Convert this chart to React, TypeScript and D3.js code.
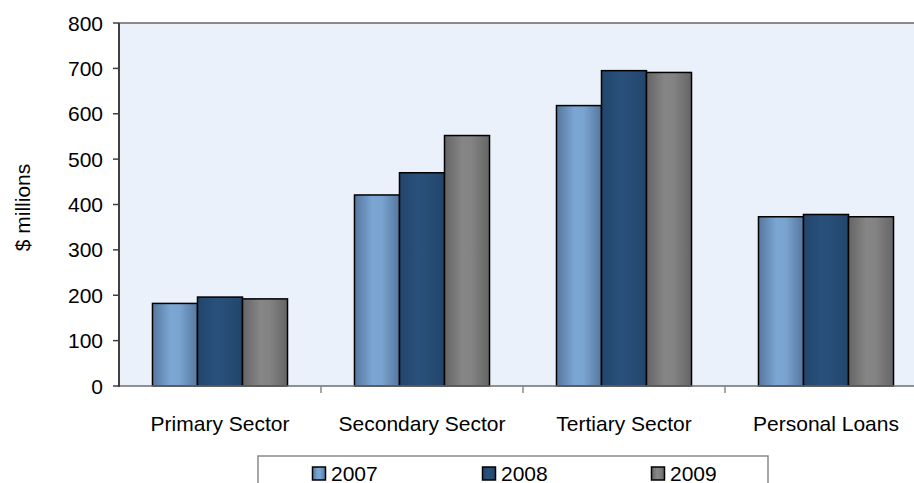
import React from "react";
import * as d3 from "d3";

const categories = ["Primary Sector", "Secondary Sector", "Tertiary Sector", "Personal Loans"];
const years = ["2007", "2008", "2009"];
const values2007 = [182, 421, 618, 373];
const values2008 = [196, 470, 695, 378];
const values2009 = [192, 552, 691, 373];
const yTicks = [0, 100, 200, 300, 400, 500, 600, 700, 800];

const series = [values2007, values2008, values2009];
const gradIds = ["g2007", "g2008", "g2009"];
const gradStops = [
  ["#55779e", "#7ba6d3", "#7aa4d0", "#55779e"],
  ["#22456b", "#29507b", "#284e78", "#22456b"],
  ["#656565", "#868686", "#838383", "#656565"],
];

const W = 914;
const H = 483;
const left = 119;
const right = 927;
const top = 23;
const bottom = 386;
const FONT = "'Liberation Sans', Arial, sans-serif";
const FS = 21;

export default function App() {
  const x0 = d3.scaleBand<string>().domain(categories).range([left, right]).padding(0);
  const x1 = d3
    .scaleBand<string>()
    .domain(years)
    .range([0, x0.bandwidth()])
    .paddingInner(0)
    .paddingOuter(0.744);
  const y = d3.scaleLinear().domain([0, 800]).range([bottom, top]);

  const legendX = [311, 481, 650];

  return (
    <svg
      width={W}
      height={H}
      style={{ position: "absolute", left: 0, top: 0, background: "#fff" }}
      fontFamily={FONT}
    >
      <defs>
        {gradIds.map((id, i) => (
          <linearGradient id={id} key={id} x1="0" x2="1" y1="0" y2="0">
            <stop offset="0" stopColor={gradStops[i][0]} />
            <stop offset="0.4" stopColor={gradStops[i][1]} />
            <stop offset="0.6" stopColor={gradStops[i][2]} />
            <stop offset="1" stopColor={gradStops[i][3]} />
          </linearGradient>
        ))}
      </defs>
      {/* plot background */}
      <rect x={left} y={top} width={right - left} height={bottom - top} fill="#eaf1fa" />
      <line x1={left} x2={W} y1={top} y2={top} stroke="#8a8a8a" strokeWidth={2} />

      {/* bars */}
      {categories.map((c, ci) => (
        <g key={c} transform={`translate(${x0(c)},0)`}>
          {years.map((yr, si) => {
            const v = series[si][ci];
            return (
              <rect
                key={yr}
                x={x1(yr)}
                y={y(v)}
                width={x1.bandwidth()}
                height={bottom - y(v)}
                fill={`url(#${gradIds[si]})`}
                stroke="#000"
                strokeWidth={1.5}
              />
            );
          })}
        </g>
      ))}

      {/* x axis */}
      <line x1={left} x2={W} y1={bottom} y2={bottom} stroke="#6e6e6e" strokeWidth={1.5} />
      {categories.map((c) => (
        <line
          key={"t" + c}
          x1={x0(c)! + x0.bandwidth()}
          x2={x0(c)! + x0.bandwidth()}
          y1={bottom}
          y2={bottom + 7}
          stroke="#888"
          strokeWidth={1.5}
        />
      ))}
      {categories.map((c) => (
        <text
          key={"l" + c}
          x={x0(c)! + x0.bandwidth() / 2}
          y={431}
          textAnchor="middle"
          fontSize={FS}
          fill="#000"
        >
          {c}
        </text>
      ))}

      {/* y axis */}
      <line x1={left} x2={left} y1={top} y2={bottom + 1} stroke="#404040" strokeWidth={2} />
      {yTicks.map((t) => (
        <g key={t}>
          <line x1={left - 6} x2={left} y1={y(t)} y2={y(t)} stroke="#404040" strokeWidth={1.5} />
          <text x={103} y={y(t)} dy="0.36em" textAnchor="end" fontSize={FS} fill="#000">
            {t}
          </text>
        </g>
      ))}
      <text
        transform={`translate(30,${(top + bottom) / 2 + 3}) rotate(-90)`}
        textAnchor="middle"
        fontSize={FS}
        fill="#000"
      >
        $ millions
      </text>

      {/* legend */}
      <rect x={258} y={456} width={510} height={40} fill="#fff" stroke="#8a8a8a" strokeWidth={1.5} />
      {years.map((yr, i) => (
        <g key={"lg" + yr}>
          <rect
            x={legendX[i] + 1.5}
            y={467}
            width={13}
            height={13}
            fill={`url(#${gradIds[i]})`}
            stroke="#000"
            strokeWidth={1.5}
          />
          <text x={legendX[i] + 20} y={480.5} fontSize={FS} fill="#000">
            {yr}
          </text>
        </g>
      ))}
    </svg>
  );
}
